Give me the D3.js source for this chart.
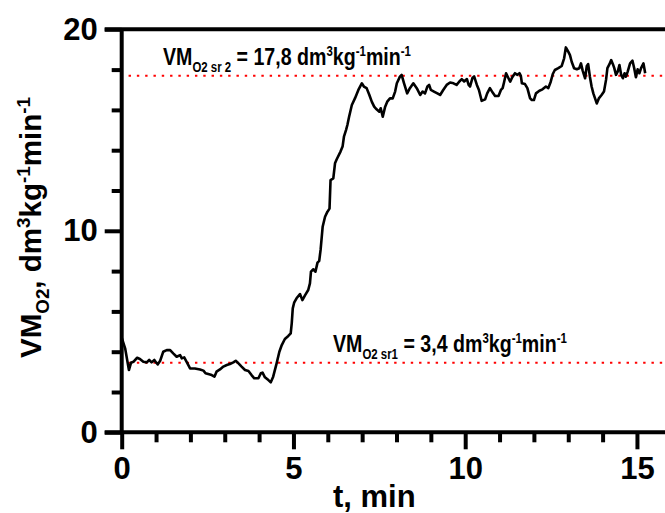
<!DOCTYPE html>
<html><head><meta charset="utf-8">
<script src="https://cdn.jsdelivr.net/npm/d3@7"></script>
<style>body{margin:0;background:#fff}svg{display:block}text{font-family:"Liberation Sans",Arial,sans-serif;font-weight:bold}</style>
</head><body><svg id="c" width="665" height="513"></svg>
<script>
// ---- data ----
const timeMin = [0.00,0.10,0.21,0.27,0.34,0.45,0.53,0.63,0.73,0.80,0.87,0.95,1.00,1.05,1.12,1.21,1.31,1.41,1.50,1.60,1.70,1.75,1.82,1.89,1.99,2.13,2.28,2.38,2.44,2.52,2.62,2.70,2.76,2.86,2.96,3.06,3.15,3.25,3.32,3.40,3.49,3.59,3.69,3.78,3.86,3.98,4.05,4.10,4.17,4.27,4.34,4.41,4.51,4.59,4.66,4.75,4.85,4.92,4.95,4.98,5.02,5.09,5.19,5.26,5.34,5.43,5.48,5.51,5.58,5.64,5.70,5.75,5.79,5.85,5.92,5.99,6.05,6.08,6.16,6.21,6.26,6.37,6.43,6.47,6.53,6.57,6.62,6.70,6.79,6.89,6.99,7.05,7.13,7.21,7.28,7.35,7.42,7.50,7.54,7.60,7.67,7.73,7.81,7.89,7.96,8.01,8.10,8.15,8.22,8.31,8.39,8.49,8.59,8.69,8.76,8.83,8.90,8.95,9.00,9.09,9.19,9.27,9.36,9.46,9.56,9.66,9.75,9.83,9.90,9.97,10.05,10.10,10.14,10.21,10.26,10.34,10.40,10.48,10.58,10.64,10.72,10.80,10.87,10.97,11.04,11.09,11.13,11.19,11.26,11.31,11.37,11.45,11.52,11.58,11.62,11.65,11.74,11.81,11.89,11.94,12.00,12.06,12.16,12.25,12.35,12.42,12.49,12.55,12.61,12.71,12.81,12.88,12.93,13.00,13.05,13.10,13.17,13.25,13.32,13.37,13.42,13.49,13.54,13.58,13.63,13.68,13.73,13.78,13.83,13.89,13.97,14.04,14.10,14.14,14.20,14.25,14.30,14.34,14.39,14.44,14.49,14.54,14.59,14.64,14.68,14.73,14.80,14.87,14.92,14.97,15.02,15.07,15.12,15.19,15.24];
const vo2 = [4.70,4.17,3.09,3.45,3.50,3.70,3.64,3.50,3.47,3.59,3.47,3.59,3.47,3.37,3.55,4.00,4.08,4.08,3.92,3.75,3.83,3.67,3.72,3.50,3.17,3.17,3.12,3.06,2.93,2.89,2.84,2.76,3.01,3.12,3.26,3.34,3.39,3.47,3.55,3.42,3.26,3.09,3.04,2.84,2.68,2.68,2.93,2.96,2.73,2.59,2.48,2.76,3.42,4.00,4.33,4.63,4.78,4.91,5.41,6.15,6.43,6.65,6.86,6.56,6.81,7.06,7.39,7.97,8.09,7.97,8.42,8.51,9.05,10.2,10.7,10.95,11.1,12.52,12.6,13.35,13.55,13.93,14.18,14.67,15.0,15.25,15.66,16.24,16.57,16.99,17.32,17.16,17.08,16.74,16.41,16.16,16.03,15.91,16.08,15.66,16.16,16.41,16.57,16.57,16.91,17.32,17.65,17.74,17.32,16.82,17.08,17.32,17.08,16.74,16.91,16.82,17.16,17.24,16.99,16.91,16.82,16.74,16.99,17.24,17.36,17.32,17.24,17.41,17.53,17.41,17.53,17.24,17.16,17.58,17.66,17.24,16.99,16.45,16.52,16.82,17.08,16.86,16.69,16.69,16.99,17.08,17.36,17.82,17.57,17.40,17.62,17.82,17.74,17.82,17.69,17.32,17.28,17.08,16.57,16.49,16.49,16.82,16.95,17.02,17.16,17.08,17.40,17.78,17.98,18.07,18.18,18.56,19.10,18.89,18.72,18.39,18.07,18.02,18.07,18.31,17.95,17.57,18.18,18.27,17.65,17.16,16.82,16.57,16.32,16.57,16.74,16.91,17.49,18.07,18.27,18.47,18.27,18.07,17.74,17.90,18.23,17.74,17.57,17.82,17.65,17.90,18.31,18.44,18.07,17.62,18.02,17.82,18.07,18.31,17.82];
const refLevels = [17.7, 3.45];
const refStart = 0.2;
const xTicksMajor = [0, 5, 10, 15];
const xTicksMinor = [1,2,3,4,6,7,8,9,11,12,13,14];
const yTicksMajor = [0, 10, 20];
const yTicksMinor = [2,4,6,8,12,14,16,18];
const xDomain = [0, 16];
const yDomain = [0, 20];
const annotTop = [{t:"VM"},{t:"O2 sr 2",k:"sub"},{t:" = 17,8 dm"},{t:"3",k:"sup"},{t:"kg"},{t:"-1",k:"sup"},{t:"min"},{t:"-1",k:"sup"}];
const annotBottom = [{t:"VM"},{t:"O2 sr1",k:"sub"},{t:" = 3,4 dm"},{t:"3",k:"sup"},{t:"kg"},{t:"-1",k:"sup"},{t:"min"},{t:"-1",k:"sup"}];
const yLabelParts = [{t:"VM"},{t:"O2",k:"sub"},{t:", dm"},{t:"3",k:"sup"},{t:"kg"},{t:"-1",k:"sup"},{t:"min"},{t:"-1",k:"sup"}];
const xLabel = "t, min";

// ---- chart ----
const svg = d3.select("#c");
const x = d3.scaleLinear().domain(xDomain).range([121.7, 121.7 + 16*34.35]);
const y = d3.scaleLinear().domain(yDomain).range([432.3, 29.3]);
const AX = 4;

// reference dotted lines
svg.selectAll("line.ref").data(refLevels).join("line").attr("class","ref")
  .attr("x1", x(refStart)).attr("x2", x(xDomain[1]))
  .attr("y1", d=>y(d)).attr("y2", d=>y(d))
  .attr("stroke","#ff0000").attr("stroke-width",2).attr("stroke-dasharray","2.4,5.9");

// data line
const pts = timeMin.map((t,i)=>[t, vo2[i]]);
svg.append("path").datum(pts)
  .attr("fill","none").attr("stroke","#000").attr("stroke-width",2.6).attr("stroke-linejoin","round")
  .attr("d", d3.line().x(d=>x(d[0])).y(d=>y(d[1])));

function styleAxis(g){
  g.select(".domain").remove();
  g.selectAll(".tick line").attr("stroke","#000").attr("stroke-width",AX);
  g.selectAll(".tick text").attr("fill","#000").style("font-size","31px").style("font-family","Liberation Sans, Arial, sans-serif").style("font-weight","bold");
}
// x axis
svg.append("g").attr("transform",`translate(0,${y(0)})`)
  .call(d3.axisBottom(x).tickValues(xTicksMinor).tickSize(10).tickFormat("")).call(styleAxis);
svg.append("g").attr("transform",`translate(0,${y(0)})`)
  .call(d3.axisBottom(x).tickValues(xTicksMajor).tickSize(17).tickPadding(8).tickFormat(d3.format("d"))).call(styleAxis);
// y axis
svg.append("g").attr("transform",`translate(${x(0)},0)`)
  .call(d3.axisLeft(y).tickValues(yTicksMinor).tickSize(10).tickFormat("")).call(styleAxis);
svg.append("g").attr("transform",`translate(${x(0)},0)`)
  .call(d3.axisLeft(y).tickValues(yTicksMajor).tickSize(17).tickPadding(7).tickFormat(d3.format("d"))).call(styleAxis);
// axis lines + top frame
svg.append("line").attr("x1",x(0)-17).attr("x2",665).attr("y1",y(0)).attr("y2",y(0)).attr("stroke","#000").attr("stroke-width",AX);
svg.append("line").attr("x1",x(0)-17).attr("x2",665).attr("y1",y(20)).attr("y2",y(20)).attr("stroke","#000").attr("stroke-width",AX);
svg.append("line").attr("x1",x(0)).attr("x2",x(0)).attr("y1",y(20)).attr("y2",y(0)).attr("stroke","#000").attr("stroke-width",AX);

// rich text helper
function rich(parts, fs, sfs, subDy, supDy, transformBase, targetW){
  const g = svg.append("g");
  const t = g.append("text").attr("x",0).attr("y",0).style("font-size",fs+"px").attr("fill","#000");
  let cur = 0;
  parts.forEach(p=>{
    let want = p.k==="sub" ? subDy : p.k==="sup" ? supDy : 0;
    const ts = t.append("tspan").text(p.t).attr("dy", want-cur);
    if(p.k) ts.style("font-size", sfs+"px");
    cur = want;
  });
  const w = t.node().getComputedTextLength();
  g.attr("transform", transformBase + ` scale(${targetW/w},1)`);
  return g;
}
rich(annotTop, 24, 14, 7, -9, "translate(163,65)", 248);
rich(annotBottom, 24, 14, 7, -9, "translate(333,352)", 234);
rich(yLabelParts, 30, 19, 8, -11, "translate(41,358) rotate(-90)", 261);

// x label
svg.append("text").attr("x",333).attr("y",507).style("font-size","31px").attr("fill","#000").text(xLabel);
</script></body></html>
